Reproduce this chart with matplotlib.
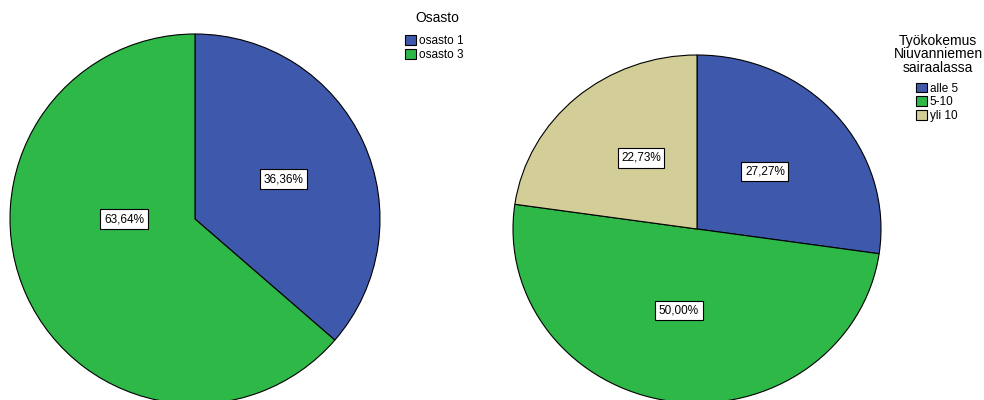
import matplotlib
matplotlib.use("Agg")
import numpy as np
import matplotlib.pyplot as plt
from matplotlib.patches import Patch

plt.rcParams['font.family'] = ['Liberation Sans', 'DejaVu Sans']

# data
osasto_labels = ["osasto 1", "osasto 3"]
osasto_values = [36.36, 63.64]
tyo_labels = ["alle 5", "5-10", "yli 10"]
tyo_values = [27.27, 50.00, 22.73]

colors = ['#3E58AC', '#2EB848', '#D3CE97']

W, H = 984, 400
fig = plt.figure(figsize=(W / 100, H / 100), dpi=100)


def pct(v):
    return f"{v:.2f}".replace(".", ",") + "%"


def draw_pie(values, cx, cy, rx, ry, label_pos):
    # own axes per pie so the pie can be a bit squashed like in SPSS
    ax = fig.add_axes([(cx - rx) / W, 1 - (cy + ry) / H, 2 * rx / W, 2 * ry / H])
    ax.pie(values, colors=colors[:len(values)], startangle=90,
           counterclock=False, radius=1,
           wedgeprops=dict(edgecolor='black', linewidth=0.8))
    for v, (d, ang) in zip(values, label_pos):
        ax.text(d * np.cos(np.radians(ang)), d * np.sin(np.radians(ang)), pct(v),
                ha='center', va='center', fontsize=8.5,
                bbox=dict(boxstyle='square,pad=0.3', fc='white', ec='black', lw=0.8))
    ax.set_xlim(-1, 1)
    ax.set_ylim(-1, 1)
    ax.set_aspect('auto')
    ax.axis('off')
    return ax


# left pie
draw_pie(osasto_values, 195, 219, 185, 185, [(0.527, 24.2), (0.384, 180)])
# right pie
draw_pie(tyo_values, 697, 229, 184, 174, [(0.494, 41.6), (0.476, -101.9), (0.509, 126.7)])

# legends
fig.text(437 / W, 1 - 18 / H, "Osasto", ha='center', va='center', fontsize=10)
h1 = [Patch(facecolor=c, edgecolor='black', linewidth=0.8) for c in colors[:2]]
fig.legend(h1, osasto_labels, loc='upper left',
           bbox_to_anchor=(405 / W, 1 - 35 / H), frameon=False, fontsize=8.5,
           handlelength=0.9, handleheight=0.9,
           handletextpad=0.25, labelspacing=0.15, borderpad=0, borderaxespad=0)

fig.text(938 / W, 1 - 54.5 / H, "Työkokemus\nNiuvanniemen\nsairaalassa", ha='center',
         va='center', fontsize=10, linespacing=1.0, multialignment='center')
h2 = [Patch(facecolor=c, edgecolor='black', linewidth=0.8) for c in colors]
fig.legend(h2, tyo_labels, loc='upper left', bbox_to_anchor=(916 / W, 1 - 82.5 / H),
           frameon=False, fontsize=8.5, handlelength=0.9, handleheight=0.9,
           handletextpad=0.25, labelspacing=0.15, borderpad=0, borderaxespad=0)

fig.savefig("out.png", dpi=100)
